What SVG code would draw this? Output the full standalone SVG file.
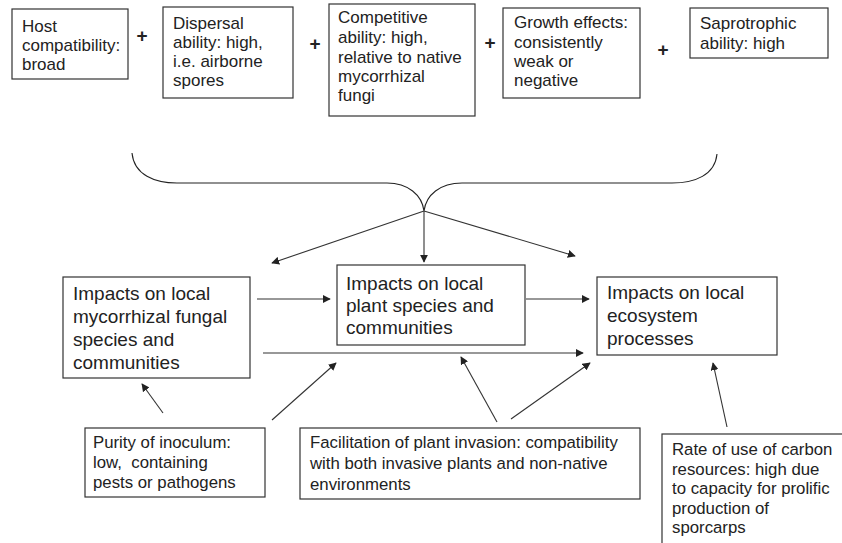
<svg xmlns="http://www.w3.org/2000/svg" width="842" height="543" viewBox="0 0 842 543">
<style>
.box{fill:#fff;stroke:#333;stroke-width:1.2}
text{font-family:"Liberation Sans",Arial,sans-serif;fill:#222}
.t{font-size:17px}
.b{font-size:19px}
.s{font-size:16.8px}
.plus{font-size:19px;font-weight:bold;text-anchor:middle}
.c{fill:none;stroke:#333;stroke-width:1.1}
.brace{fill:none;stroke:#222;stroke-width:1.1}
</style>
<defs>
<marker id="ah" viewBox="0 0 10 10" refX="9" refY="5" markerWidth="8" markerHeight="8" markerUnits="userSpaceOnUse" orient="auto">
<path d="M0,0 L10,5 L0,10 z" fill="#222"/>
</marker>
</defs>
<rect width="842" height="543" fill="#fff"/>

<g id="host"><rect class="box" x="12" y="9" width="116" height="70"/>
<text class="t" x="22" y="32">Host</text><text class="t" x="22" y="51">compatibility:</text><text class="t" x="22" y="70">broad</text></g>
<g id="dispersal"><rect class="box" x="163" y="7" width="130" height="91"/>
<text class="t" x="173" y="29">Dispersal</text><text class="t" x="173" y="48">ability: high,</text><text class="t" x="173" y="67">i.e. airborne</text><text class="t" x="173" y="86">spores</text></g>
<g id="competitive"><rect class="box" x="329" y="4" width="146" height="112"/>
<text class="t" x="338" y="23">Competitive</text><text class="t" x="338" y="43">ability: high,</text><text class="t" x="338" y="63">relative to native</text><text class="t" x="338" y="82">mycorrhizal</text><text class="t" x="338" y="101">fungi</text></g>
<g id="growth"><rect class="box" x="503" y="8" width="137" height="90"/>
<text class="t" x="514" y="28">Growth effects:</text><text class="t" x="514" y="48">consistently</text><text class="t" x="514" y="67">weak or</text><text class="t" x="514" y="86">negative</text></g>
<g id="saprotrophic"><rect class="box" x="690" y="8" width="138" height="50"/>
<text class="t" x="700" y="29">Saprotrophic</text><text class="t" x="700" y="49">ability: high</text></g>

<g id="plus-signs">
<text class="plus" x="142" y="42">+</text>
<text class="plus" x="315" y="50">+</text>
<text class="plus" x="490" y="49">+</text>
<text class="plus" x="663" y="56">+</text>
</g>

<g id="brace"><path class="brace" d="M132,153 C134,175 155,183 177,183 L387,183 C408,183 422,195 424,211 C426,195 440,183 462,183 L672,183 C695,183 715,175 717,154"/></g>

<g id="fungal"><rect class="box" x="63" y="277" width="187" height="101"/>
<text class="b" x="73" y="300">Impacts on local</text><text class="b" x="73" y="323">mycorrhizal fungal</text><text class="b" x="73" y="346">species and</text><text class="b" x="73" y="369">communities</text></g>
<g id="plant"><rect class="box" x="337" y="265" width="188" height="80"/>
<text class="b" x="346" y="290">Impacts on local</text><text class="b" x="346" y="312">plant species and</text><text class="b" x="346" y="334">communities</text></g>
<g id="ecosystem"><rect class="box" x="597" y="277" width="180" height="78"/>
<text class="b" x="607" y="299">Impacts on local</text><text class="b" x="607" y="322">ecosystem</text><text class="b" x="607" y="345">processes</text></g>

<g id="purity"><rect class="box" x="85" y="428" width="180" height="69"/>
<text class="s" x="93" y="448">Purity of inoculum:</text><text class="s" x="93" y="468" xml:space="preserve">low,  containing</text><text class="s" x="93" y="488">pests or pathogens</text></g>
<g id="facilitation"><rect class="box" x="300" y="428" width="340" height="71"/>
<text class="s" x="310" y="448">Facilitation of plant invasion: compatibility</text><text class="s" x="310" y="469">with both invasive plants and non-native</text><text class="s" x="310" y="490">environments</text></g>
<g id="rate"><rect class="box" x="662" y="434" width="185" height="115"/>
<text class="s" x="672" y="455">Rate of use of carbon</text><text class="s" x="672" y="475">resources: high due</text><text class="s" x="672" y="494">to capacity for prolific</text><text class="s" x="672" y="514">production of</text><text class="s" x="672" y="533">sporcarps</text></g>

<g id="connectors">
<line class="c" x1="424" y1="211" x2="272" y2="263" marker-end="url(#ah)"/>
<line class="c" x1="424" y1="211" x2="424" y2="262" marker-end="url(#ah)"/>
<line class="c" x1="424" y1="211" x2="575" y2="256" marker-end="url(#ah)"/>
<line class="c" x1="257" y1="299" x2="330" y2="299" marker-end="url(#ah)"/>
<line class="c" x1="526" y1="299" x2="589" y2="299" marker-end="url(#ah)"/>
<line class="c" x1="263" y1="353" x2="583" y2="353" stroke-width="1.6" marker-end="url(#ah)"/>
<line class="c" x1="163" y1="413" x2="142" y2="384" marker-end="url(#ah)"/>
<line class="c" x1="272" y1="420" x2="336" y2="363" marker-end="url(#ah)"/>
<line class="c" x1="497" y1="422" x2="461" y2="357" marker-end="url(#ah)"/>
<line class="c" x1="511" y1="419" x2="590" y2="363" marker-end="url(#ah)"/>
<line class="c" x1="727" y1="427" x2="713" y2="363" marker-end="url(#ah)"/>
</g>
</svg>
